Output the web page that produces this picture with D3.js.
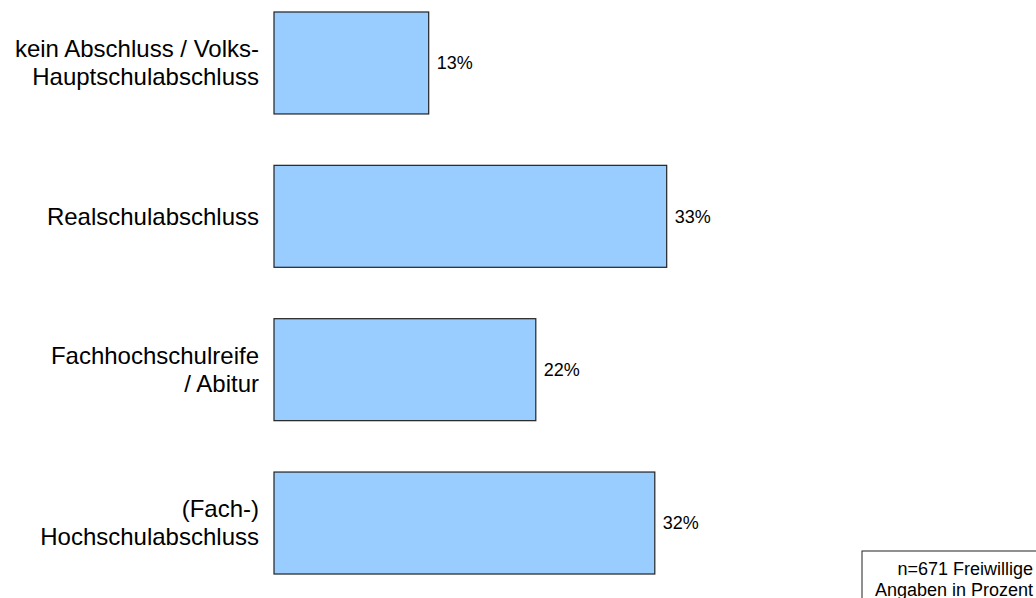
<!DOCTYPE html>
<html>
<head>
<meta charset="utf-8">
<script src="https://cdn.jsdelivr.net/npm/d3@7"></script>
<style>
  body { margin: 0; background: #fff; }
  text { font-family: "Liberation Sans", Arial, sans-serif; fill: #000; }
</style>
</head>
<body>
<svg width="1036" height="598"></svg>
<script>
const categories = [
  ["kein Abschluss / Volks-", "Hauptschulabschluss"],
  ["Realschulabschluss"],
  ["Fachhochschulreife", "/ Abitur"],
  ["(Fach-)", "Hochschulabschluss"]
];
const values = [13, 33, 22, 32];
const valueLabels = ["13%", "33%", "22%", "32%"];
const noteLines = ["n=671 Freiwillige", "Angaben in Prozent"];

const svg = d3.select("svg");

const xScale = d3.scaleLinear()
  .domain([0, 40])
  .range([274, 750]);

const yScale = d3.scaleBand()
  .domain(d3.range(values.length))
  .range([-13.7, 599.7])
  .paddingInner(0.335)
  .paddingOuter(0.1675);

// Bars
svg.selectAll("rect.bar")
  .data(values)
  .enter()
  .append("rect")
  .attr("class", "bar")
  .attr("x", xScale(0))
  .attr("y", (d, i) => yScale(i))
  .attr("width", d => xScale(d) - xScale(0))
  .attr("height", yScale.bandwidth())
  .attr("fill", "#99ccff")
  .attr("stroke", "#222")
  .attr("stroke-width", 1.2);

// Value labels
svg.selectAll("text.value")
  .data(values)
  .enter()
  .append("text")
  .attr("class", "value")
  .attr("x", d => xScale(d) + 8)
  .attr("y", (d, i) => yScale(i) + yScale.bandwidth() / 2)
  .attr("dy", "0.35em")
  .attr("font-size", 18)
  .text((d, i) => valueLabels[i]);

// Category labels
const lineHeight = 28;
categories.forEach((lines, i) => {
  const cy = yScale(i) + yScale.bandwidth() / 2;
  const t = svg.append("text")
    .attr("text-anchor", "end")
    .attr("font-size", 24);
  lines.forEach((line, j) => {
    t.append("tspan")
      .attr("x", 259)
      .attr("y", cy + (j - (lines.length - 1) / 2) * lineHeight)
      .attr("dy", "0.35em")
      .text(line);
  });
});

// Note box
const note = svg.append("g").attr("transform", "translate(862, 551)");
note.append("rect")
  .attr("width", 200)
  .attr("height", 60)
  .attr("fill", "#fff")
  .attr("stroke", "#222")
  .attr("stroke-width", 1);
noteLines.forEach((line, j) => {
  note.append("text")
    .attr("x", 171)
    .attr("y", 24 + j * 21)
    .attr("text-anchor", "end")
    .attr("font-size", 18)
    .text(line);
});
</script>
</body>
</html>
